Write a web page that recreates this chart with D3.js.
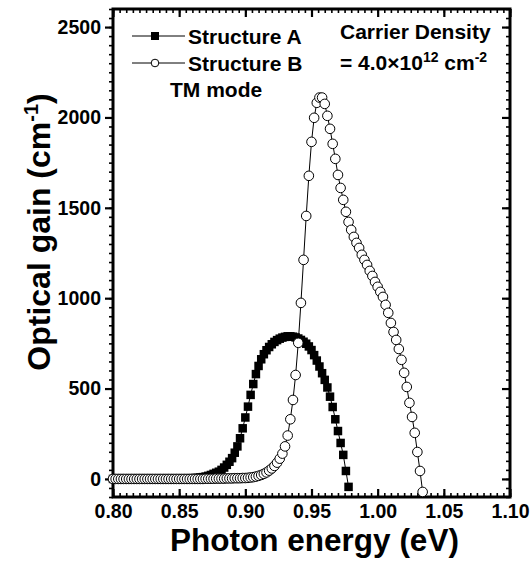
<!DOCTYPE html>
<html>
<head>
<meta charset="utf-8">
<script src="https://cdn.jsdelivr.net/npm/d3@7"></script>
<style>
  body { margin: 0; background: #fff; }
  text { font-family: "Liberation Sans", Arial, sans-serif; font-weight: bold; fill: #000; }
</style>
</head>
<body>
<div id="chart"></div>
<script>
// photon energy grid (eV)
const energy = [
  0.800, 0.802, 0.804, 0.806, 0.808, 0.810, 0.812, 0.814, 0.816, 0.818,
  0.820, 0.822, 0.824, 0.826, 0.828, 0.830, 0.832, 0.834, 0.836, 0.838,
  0.840, 0.842, 0.844, 0.846, 0.848, 0.850, 0.852, 0.854, 0.856, 0.858,
  0.860, 0.862, 0.864, 0.866, 0.868, 0.870, 0.872, 0.874, 0.876, 0.878,
  0.880, 0.882, 0.884, 0.886, 0.888, 0.890, 0.892, 0.894, 0.896, 0.898,
  0.900, 0.902, 0.904, 0.906, 0.908, 0.910, 0.912, 0.914, 0.916, 0.918,
  0.920, 0.922, 0.924, 0.926, 0.928, 0.930, 0.932, 0.934, 0.936, 0.938,
  0.940, 0.942, 0.944, 0.946, 0.948, 0.950, 0.952, 0.954, 0.956, 0.958,
  0.960, 0.962, 0.964, 0.966, 0.968, 0.970, 0.972, 0.974, 0.976, 0.978,
  0.980, 0.982, 0.984, 0.986, 0.988, 0.990, 0.992, 0.994, 0.996, 0.998,
  1.000, 1.002, 1.004, 1.006, 1.008, 1.010, 1.012, 1.014, 1.016, 1.018,
  1.020, 1.022, 1.024, 1.026, 1.028, 1.030, 1.032, 1.034
];

// Structure A gain (cm^-1), 0.800 .. 0.978 eV
const gainA = [
  0, 0, 0, 0, 0, 0, 0, 0, 0, 0,
  0, 0, 0, 0, 0, 0, 0, 0, 0, 0,
  0, 0, 0, 0, 0, 1, 1, 2, 2, 3,
  4, 5, 6, 8, 10, 13, 17, 22, 28, 34,
  40, 50, 63, 78, 95, 115, 145, 180, 225, 280,
  340, 400, 465, 525, 580, 625, 662, 690, 712, 730,
  745, 758, 768, 776, 782, 786, 789, 789, 787, 783,
  777, 769, 759, 748, 733, 713, 685, 655, 622, 585,
  548, 506, 455, 398, 330, 265, 199, 133, 44, -44
];

// Structure B gain (cm^-1), 0.800 .. 1.034 eV
const gainB = [
  0, 0, 0, 0, 0, 0, 0, 0, 0, 0,
  0, 0, 0, 0, 0, 0, 0, 0, 0, 0,
  0, 0, 0, 0, 0, 0, 0, 0, 0, 0,
  0, 0, 0, 0, 0, 1, 1, 1, 1, 2,
  2, 2, 2, 3, 3, 3, 4, 4, 4, 5,
  5, 6, 8, 10, 13, 17, 22, 28, 36, 46,
  58, 72, 90, 112, 140, 180, 240, 330, 437, 575,
  753, 974, 1212, 1455, 1677, 1865, 1998, 2081, 2110, 2110,
  2075, 2009, 1937, 1854, 1771, 1682, 1610, 1544, 1478, 1422,
  1378, 1339, 1306, 1278, 1240, 1212, 1184, 1151, 1123, 1090,
  1063, 1035, 1007, 963, 919, 863, 813, 769, 719, 659,
  587, 509, 421, 343, 255, 149, 44, -72
];

const xTicks = [0.80, 0.85, 0.90, 0.95, 1.00, 1.05, 1.10];
const yTicks = [0, 500, 1000, 1500, 2000, 2500];

const width = 530, height = 563;
const plotLeft = 113, plotRight = 510, plotTop = 9, plotBottom = 497;

const svg = d3.select("#chart").append("svg")
    .attr("width", width)
    .attr("height", height);

const x = d3.scaleLinear().domain([0.80, 1.10]).range([plotLeft, plotRight]);
const y = d3.scaleLinear().domain([-100, 2600]).range([plotBottom, plotTop]);

const xMinor = d3.range(0, 61).map(i => 0.80 + i * 0.005);
const yMinor = d3.range(0, 55).map(i => -100 + i * 50);

function styleAxis(g, w) {
    g.select(".domain").remove();
    g.selectAll(".tick line").attr("stroke", "#000").attr("stroke-width", w);
}

// minor ticks
svg.append("g").attr("transform", `translate(0,${plotBottom})`)
    .call(d3.axisBottom(x).tickValues(xMinor).tickFormat("").tickSize(-4).tickSizeOuter(0))
    .call(g => styleAxis(g, 1.6));
svg.append("g").attr("transform", `translate(0,${plotTop})`)
    .call(d3.axisTop(x).tickValues(xMinor).tickFormat("").tickSize(-4).tickSizeOuter(0))
    .call(g => styleAxis(g, 1.6));
svg.append("g").attr("transform", `translate(${plotLeft},0)`)
    .call(d3.axisLeft(y).tickValues(yMinor).tickFormat("").tickSize(4).tickSizeOuter(0))
    .call(g => styleAxis(g, 1.6));
svg.append("g").attr("transform", `translate(${plotRight},0)`)
    .call(d3.axisRight(y).tickValues(yMinor).tickFormat("").tickSize(-4).tickSizeOuter(0))
    .call(g => styleAxis(g, 1.6));

// major ticks + labels
svg.append("g").attr("transform", `translate(0,${plotBottom})`)
    .call(d3.axisBottom(x).tickValues(xTicks).tickFormat(d3.format(".2f")).tickSize(-8).tickPadding(7).tickSizeOuter(0))
    .call(g => styleAxis(g, 2.2))
    .call(g => g.selectAll(".tick text").attr("font-size", 19.5).attr("font-family", null));
svg.append("g").attr("transform", `translate(0,${plotTop})`)
    .call(d3.axisTop(x).tickValues(xTicks).tickFormat("").tickSize(-8).tickSizeOuter(0))
    .call(g => styleAxis(g, 2.2));
svg.append("g").attr("transform", `translate(${plotLeft},0)`)
    .call(d3.axisLeft(y).tickValues(yTicks).tickFormat(d3.format("d")).tickSize(8).tickPadding(4).tickSizeOuter(0))
    .call(g => styleAxis(g, 2.2))
    .call(g => g.selectAll(".tick text").attr("font-size", 19.5).attr("font-family", null));
svg.append("g").attr("transform", `translate(${plotRight},0)`)
    .call(d3.axisRight(y).tickValues(yTicks).tickFormat("").tickSize(-8).tickSizeOuter(0))
    .call(g => styleAxis(g, 2.2));

// frame
svg.append("rect")
    .attr("x", plotLeft).attr("y", plotTop)
    .attr("width", plotRight - plotLeft).attr("height", plotBottom - plotTop)
    .attr("fill", "none").attr("stroke", "#000").attr("stroke-width", 3);

// series
const dataA = gainA.map((g, i) => [energy[i], g]);
const dataB = gainB.map((g, i) => [energy[i], g]);
const line = d3.line().x(d => x(d[0])).y(d => y(d[1]));

svg.append("path").datum(dataA)
    .attr("d", line).attr("fill", "none").attr("stroke", "#000").attr("stroke-width", 1);
const sq = 8.5;
svg.append("g").selectAll("rect").data(dataA).enter().append("rect")
    .attr("x", d => x(d[0]) - sq / 2)
    .attr("y", d => y(d[1]) - sq / 2)
    .attr("width", sq).attr("height", sq)
    .attr("fill", "#000");

svg.append("path").datum(dataB)
    .attr("d", line).attr("fill", "none").attr("stroke", "#000").attr("stroke-width", 1);
svg.append("g").selectAll("circle").data(dataB).enter().append("circle")
    .attr("cx", d => x(d[0]))
    .attr("cy", d => y(d[1]))
    .attr("r", 4.8)
    .attr("fill", "#fff")
    .attr("stroke", "#000")
    .attr("stroke-width", 1);

// legend
const legend = svg.append("g");
const legendRows = [
    { label: "Structure A", y: 36, marker: "square" },
    { label: "Structure B", y: 63, marker: "circle" }
];
legendRows.forEach(r => {
    legend.append("line")
        .attr("x1", 132).attr("x2", 185).attr("y1", r.y).attr("y2", r.y)
        .attr("stroke", "#000").attr("stroke-width", 1);
    if (r.marker === "square") {
        legend.append("rect").attr("x", 155 - 4).attr("y", r.y - 4)
            .attr("width", 8).attr("height", 8).attr("fill", "#000");
    } else {
        legend.append("circle").attr("cx", 155).attr("cy", r.y).attr("r", 3.8)
            .attr("fill", "#fff").attr("stroke", "#000").attr("stroke-width", 1);
    }
    legend.append("text").attr("x", 188).attr("y", r.y + 7.5)
        .attr("font-size", 21).text(r.label);
});
legend.append("text").attr("x", 170).attr("y", 97).attr("font-size", 21).text("TM mode");

// carrier density annotation
svg.append("text").attr("x", 340).attr("y", 39).attr("font-size", 21).text("Carrier Density");
const dens = svg.append("text").attr("x", 340).attr("y", 70).attr("font-size", 21);
dens.append("tspan").text("= 4.0\u00d710");
dens.append("tspan").attr("font-size", 14).attr("dy", -8).text("12");
dens.append("tspan").attr("dy", 8).text(" cm");
dens.append("tspan").attr("font-size", 14).attr("dy", -8).text("-2");

// axis titles
svg.append("text")
    .attr("x", (plotLeft + plotRight) / 2 + 3).attr("y", 551)
    .attr("text-anchor", "middle").attr("font-size", 31.5)
    .text("Photon energy (eV)");

const yt = svg.append("text")
    .attr("transform", "translate(50,232) rotate(-90)")
    .attr("text-anchor", "middle").attr("font-size", 32);
yt.append("tspan").text("Optical gain (cm");
yt.append("tspan").attr("font-size", 20).attr("dy", -12).text("-1");
yt.append("tspan").attr("dy", 12).text(")");
</script>
</body>
</html>
